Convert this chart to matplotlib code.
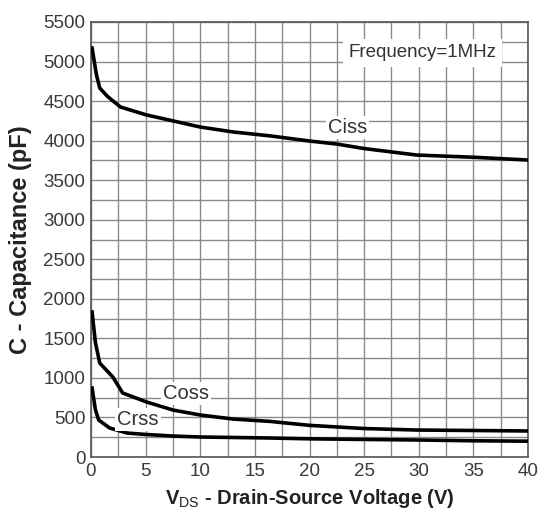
import numpy as np
import matplotlib.pyplot as plt

plt.rcParams['font.family'] = ['Liberation Sans', 'DejaVu Sans']
plt.rcParams['mathtext.fontset'] = 'custom'
plt.rcParams['mathtext.rm'] = 'Liberation Sans'
plt.rcParams['mathtext.bf'] = 'Liberation Sans:bold'

# Capacitance vs drain-source voltage
vds_ciss = [0.1, 0.5, 0.8, 1.5, 2.7, 5.1, 7.5, 10, 13, 16.4, 20, 22.5, 25, 29.8, 35, 40]
ciss = [5170, 4830, 4665, 4560, 4425, 4324, 4250, 4172, 4110, 4060, 3995, 3957, 3900, 3818, 3790, 3755]

vds_coss = [0.1, 0.4, 0.8, 2.0, 2.9, 5.1, 7.5, 10, 13, 16.4, 20, 25, 29.8, 35, 40]
coss = [1833, 1450, 1188, 1011, 809, 695, 594, 531, 480, 450, 400, 360, 341, 335, 329]

vds_crss = [0.1, 0.4, 0.7, 1.7, 3.3, 5, 7.5, 10, 16.4, 20, 25, 30, 35, 40]
crss = [872, 600, 468, 367, 303, 285, 265, 253, 240, 230, 222, 215, 205, 200]

fig = plt.figure(figsize=(5.38, 5.17), dpi=100)
ax = fig.add_axes([91 / 538, 1 - 457 / 517, 437 / 538, 435 / 517])

for x, y in [(vds_ciss, ciss), (vds_coss, coss), (vds_crss, crss)]:
    ax.plot(x, y, color='black', lw=2.6, zorder=3, solid_joinstyle='round')

ax.set_xlim(0, 40)
ax.set_ylim(0, 5500)
ax.set_xticks(np.arange(0, 41, 5))
ax.set_yticks(np.arange(0, 5501, 500))
ax.set_xticks(np.arange(0, 40.1, 2.5), minor=True)
ax.set_yticks(np.arange(0, 5501, 250), minor=True)
ax.grid(which='both', color='#8a8a8a', lw=1.0, zorder=1)
ax.tick_params(which='both', length=0, labelsize=13.5, colors='#3a3a3a', pad=4)
for s in ax.spines.values():
    s.set_color('#555555')
    s.set_linewidth(1.2)

box = dict(facecolor='white', edgecolor='none', pad=1.5)
ax.text(23.6, 5110, 'Frequency=1MHz', fontsize=13.5, color='#333333', va='center',
        ha='left', zorder=4, bbox=dict(facecolor='white', edgecolor='none', pad=4))
ax.text(21.7, 4160, 'Ciss', fontsize=14.5, color='#333333', va='center', ha='left', zorder=4, bbox=box)
ax.text(6.6, 800, 'Coss', fontsize=14.5, color='#333333', va='center', ha='left', zorder=4, bbox=box)
ax.text(2.4, 470, 'Crss', fontsize=14.5, color='#333333', va='center', ha='left', zorder=4, bbox=box)

ax.set_ylabel('C - Capacitance (pF)', fontsize=17, fontweight='bold',
              color='#222222', labelpad=8)
ax.set_xlabel(r'V$_{\rm DS}$ - Drain-Source Voltage (V)', fontsize=14.5, fontweight='bold',
              color='#222222', labelpad=5)

fig.savefig('out.png', dpi=100)
